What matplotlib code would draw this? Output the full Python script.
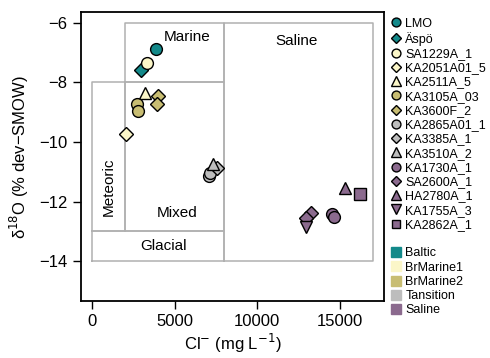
import matplotlib
matplotlib.use("Agg")
import matplotlib.pyplot as plt
from matplotlib.lines import Line2D

plt.rcParams['font.family'] = ['Liberation Sans', 'DejaVu Sans']

# samples: name, marker, colour, Cl- (mg/L), d18O
names = ["LMO", "Äspö", "SA1229A_1", "KA2051A01_5", "KA2511A_5", "KA3105A_03",
         "KA3600F_2", "KA2865A01_1", "KA3385A_1", "KA3510A_2", "KA1730A_1",
         "SA2600A_1", "HA2780A_1", "KA1755A_3", "KA2862A_1"]
markers = ["o", "D", "o", "D", "^", "o", "D", "o", "D", "^", "o", "D", "^", "v", "s"]
groups = ["Baltic", "Baltic", "BrMarine1", "BrMarine1", "BrMarine1", "BrMarine2",
          "BrMarine2", "Tansition", "Tansition", "Tansition", "Saline", "Saline",
          "Saline", "Saline", "Saline"]
cl = [[3870], [2960], [3310], [2060], [3210], [2740, 2765], [3970, 3910],
      [7090, 7150], [7580], [7340], [14550, 14620], [13250, 12950], [15310], [12930], [16210]]
d18o = [[-6.87], [-7.58], [-7.36], [-9.73], [-8.34], [-8.72, -8.95], [-8.46, -8.73],
        [-11.14, -11.05], [-10.88], [-10.73], [-12.4, -12.52], [-12.39, -12.55],
        [-11.55], [-12.85], [-11.75]]

group_names = ["Baltic", "BrMarine1", "BrMarine2", "Tansition", "Saline"]
group_colors = ["#13898a", "#fbf6c8", "#c8bd72", "#bdbdbd", "#8b6a8e"]
gcol = dict(zip(group_names, group_colors))

# water-type boxes: (x0, x1, y0, y1)
boxes = [(2000, 8000, -8, -6), (0, 2000, -13, -8), (2000, 8000, -13, -8),
         (0, 8000, -14, -13), (8000, 17000, -14, -6)]

fig = plt.figure(figsize=(4.9, 3.58), dpi=100)
ax = fig.add_axes([0.165, 0.159, 0.619, 0.807])

for x0, x1, y0, y1 in boxes:
    ax.plot([x0, x1, x1, x0, x0], [y0, y0, y1, y1, y0], color="#b0b0b0", lw=1.1, zorder=1)

ax.text(5750, -6.48, "Marine", ha="center", va="center", fontsize=11)
ax.text(12400, -6.6, "Saline", ha="center", va="center", fontsize=11)
ax.text(1000, -11.5, "Meteoric", ha="center", va="center", rotation=90, fontsize=11)
ax.text(5150, -12.38, "Mixed", ha="center", va="center", fontsize=11)
ax.text(4300, -13.5, "Glacial", ha="center", va="center", fontsize=11)

sizes = {"o": 8.5, "D": 7, "^": 9, "v": 9, "s": 8}
handles = []
for n, m, g, xs, ys in zip(names, markers, groups, cl, d18o):
    ax.plot(xs, ys, ls="none", marker=m, ms=sizes[m], mfc=gcol[g], mec="black",
            mew=1.0, zorder=3)
    handles.append(Line2D([], [], ls="none", marker=m, ms=sizes[m] * 0.75,
                          mfc=gcol[g], mec="black", mew=1.0, label=n))
handles.append(Line2D([], [], ls="none", label=" "))
for g, c in zip(group_names, group_colors):
    handles.append(Line2D([], [], ls="none", marker="s", ms=7.5, mfc=c, mec=c, label=g))

ax.set_xlim(-680, 17680)
ax.set_ylim(-15.34, -5.64)
ax.set_xticks([0, 5000, 10000, 15000])
ax.set_yticks([-6, -8, -10, -12, -14])
ax.set_yticklabels(["\u22126", "\u22128", "\u221210", "\u221212", "\u221214"])
ax.tick_params(direction="out", length=6, width=1, labelsize=12)
for s in ax.spines.values():
    s.set_linewidth(1.3)

ax.set_xlabel("Cl$^{-}$ (mg L$^{-1}$)", fontsize=12, labelpad=2)
ax.set_ylabel("\u03b4$^{18}$O (% dev\u2212SMOW)", fontsize=12, labelpad=6)

fig.legend(handles=handles, loc="upper left", bbox_to_anchor=(0.79, 0.965),
           frameon=False, fontsize=9, handlelength=0.7, handletextpad=0.35,
           labelspacing=0.18, borderaxespad=0)

fig.savefig("out.png", dpi=100)
